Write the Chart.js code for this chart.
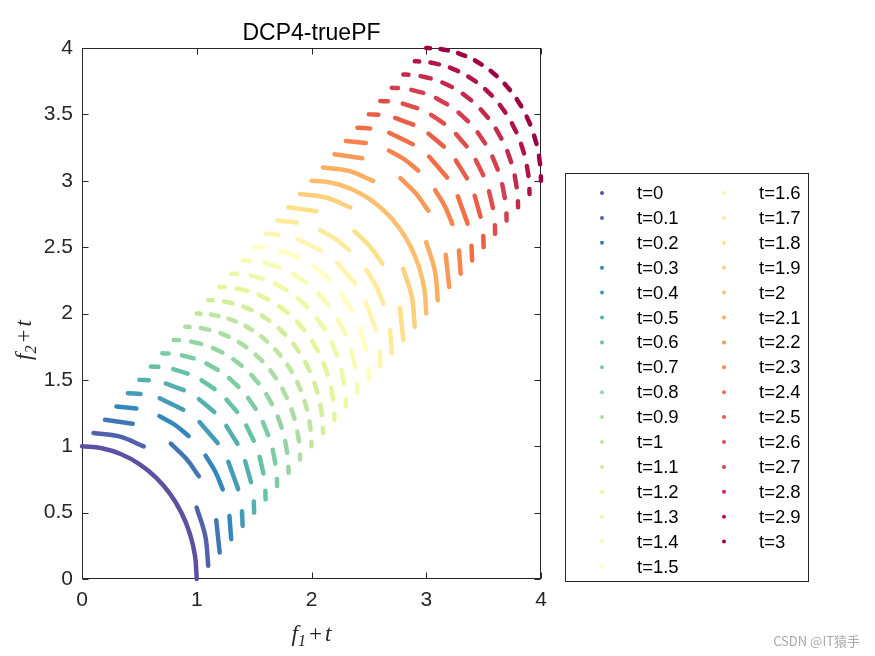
<!DOCTYPE html>
<html>
<head>
<meta charset="utf-8">
<script src="https://cdn.jsdelivr.net/npm/chart.js@4.4.1/dist/chart.umd.min.js"></script>
<style>
  html, body { margin: 0; padding: 0; background: #fff; }
</style>
</head>
<body>
<canvas id="pf" width="875" height="656"></canvas>
<script>
// time steps shown in the legend
const tValues = [0, 0.1, 0.2, 0.3, 0.4, 0.5, 0.6, 0.7, 0.8, 0.9, 1, 1.1, 1.2, 1.3, 1.4, 1.5,
  1.6, 1.7, 1.8, 1.9, 2, 2.1, 2.2, 2.3, 2.4, 2.5, 2.6, 2.7, 2.8, 2.9, 3];

const xTicks = [0, 1, 2, 3, 4];
const yTicks = [0, 0.5, 1, 1.5, 2, 2.5, 3, 3.5, 4];

// front pieces, [f1+t, f2+t]; null = gap between pieces
const s00 = [[0,1],[0.174,0.985],[0.342,0.94],[0.5,0.866],[0.643,0.766],[0.766,0.643],[0.866,0.5],[0.94,0.342],[0.985,0.174],[1,0]];
const s01 = [[0.1,1.1],[0.325,1.074],[0.538,0.999],null,[0.999,0.538],[1.074,0.325],[1.1,0.1]];
const s02 = [[0.2,1.2],[0.442,1.17],null,[0.774,1.019],[0.907,0.907],[1.019,0.774],null,[1.17,0.442],[1.2,0.2]];
const s03 = [[0.3,1.3],[0.474,1.285],null,[0.675,1.227],[0.808,1.162],[0.929,1.077],null,[1.077,0.929],[1.162,0.808],[1.227,0.675],null,[1.285,0.474],[1.3,0.3]];
const s04 = [[0.4,1.4],[0.511,1.394],null,[0.677,1.361],[0.883,1.275],null,[1.024,1.182],[1.182,1.024],null,[1.275,0.883],[1.361,0.677],null,[1.394,0.511],[1.4,0.4]];
const s05 = [[0.5,1.5],[0.583,1.497],null,[0.729,1.473],[0.887,1.422],null,[1.019,1.355],[1.153,1.258],null,[1.258,1.153],[1.355,1.019],null,[1.422,0.887],[1.473,0.729],null,[1.497,0.583],[1.5,0.5]];
const s06 = [[0.6,1.6],[0.665,1.598],null,[0.795,1.581],[0.921,1.547],null,[1.042,1.497],[1.156,1.431],null,[1.259,1.352],[1.352,1.259],null,[1.431,1.156],[1.497,1.042],null,[1.547,0.921],[1.581,0.795],null,[1.598,0.665],[1.6,0.6]];
const s07 = [[0.7,1.7],[0.754,1.699],null,[0.87,1.685],[0.974,1.662],null,[1.084,1.623],[1.182,1.576],null,[1.281,1.514],[1.364,1.448],null,[1.448,1.364],[1.514,1.281],null,[1.576,1.182],[1.623,1.084],null,[1.662,0.974],[1.685,0.87],null,[1.699,0.754],[1.7,0.7]];
const s08 = [[0.8,1.8],[0.845,1.799],null,[0.951,1.788],[1.039,1.771],null,[1.14,1.74],[1.224,1.706],null,[1.318,1.655],[1.392,1.606],null,[1.474,1.538],[1.538,1.474],null,[1.606,1.392],[1.655,1.318],null,[1.706,1.224],[1.74,1.14],null,[1.771,1.039],[1.788,0.951],null,[1.799,0.845],[1.8,0.8]];
const s09 = [[0.9,1.9],[0.938,1.899],null,[1.036,1.891],[1.111,1.877],null,[1.206,1.852],[1.278,1.826],null,[1.366,1.785],[1.433,1.746],null,[1.513,1.69],[1.572,1.641],null,[1.641,1.572],[1.69,1.513],null,[1.746,1.433],[1.785,1.366],null,[1.826,1.278],[1.852,1.206],null,[1.877,1.111],[1.891,1.036],null,[1.899,0.938],[1.9,0.9]];
const s10 = [[1,2],[1.033,1.999],null,[1.124,1.992],[1.189,1.982],null,[1.277,1.961],[1.34,1.94],null,[1.424,1.906],[1.483,1.875],null,[1.561,1.828],[1.614,1.789],null,[1.683,1.73],[1.73,1.683],null,[1.789,1.614],[1.828,1.561],null,[1.875,1.483],[1.906,1.424],null,[1.94,1.34],[1.961,1.277],null,[1.982,1.189],[1.992,1.124],null,[1.999,1.033],[2,1]];
const s11 = [[1.1,2.1],[1.138,2.099],null,[1.236,2.091],[1.311,2.077],null,[1.406,2.052],[1.478,2.026],null,[1.566,1.985],[1.633,1.946],null,[1.713,1.89],[1.772,1.841],null,[1.841,1.772],[1.89,1.713],null,[1.946,1.633],[1.985,1.566],null,[2.026,1.478],[2.052,1.406],null,[2.077,1.311],[2.091,1.236],null,[2.099,1.138],[2.1,1.1]];
const s12 = [[1.2,2.2],[1.245,2.199],null,[1.351,2.188],[1.439,2.171],null,[1.54,2.14],[1.624,2.106],null,[1.718,2.055],[1.792,2.006],null,[1.874,1.938],[1.938,1.874],null,[2.006,1.792],[2.055,1.718],null,[2.106,1.624],[2.14,1.54],null,[2.171,1.439],[2.188,1.351],null,[2.199,1.245],[2.2,1.2]];
const s13 = [[1.3,2.3],[1.354,2.299],null,[1.47,2.285],[1.574,2.262],null,[1.684,2.223],[1.782,2.176],null,[1.881,2.114],[1.964,2.048],null,[2.048,1.964],[2.114,1.881],null,[2.176,1.782],[2.223,1.684],null,[2.262,1.574],[2.285,1.47],null,[2.299,1.354],[2.3,1.3]];
const s14 = [[1.4,2.4],[1.465,2.398],null,[1.595,2.381],[1.721,2.347],null,[1.842,2.297],[1.956,2.231],null,[2.059,2.152],[2.152,2.059],null,[2.231,1.956],[2.297,1.842],null,[2.347,1.721],[2.381,1.595],null,[2.398,1.465],[2.4,1.4]];
const s15 = [[1.5,2.5],[1.583,2.497],null,[1.729,2.473],[1.887,2.422],null,[2.019,2.355],[2.153,2.258],null,[2.258,2.153],[2.355,2.019],null,[2.422,1.887],[2.473,1.729],null,[2.497,1.583],[2.5,1.5]];
const s16 = [[1.6,2.6],[1.711,2.594],null,[1.877,2.561],[2.083,2.475],null,[2.224,2.382],[2.382,2.224],null,[2.475,2.083],[2.561,1.877],null,[2.594,1.711],[2.6,1.6]];
const s17 = [[1.7,2.7],[1.874,2.685],null,[2.075,2.627],[2.208,2.562],[2.329,2.477],null,[2.477,2.329],[2.562,2.208],[2.627,2.075],null,[2.685,1.874],[2.7,1.7]];
const s18 = [[1.8,2.8],[2.042,2.77],null,[2.374,2.619],[2.507,2.507],[2.619,2.374],null,[2.77,2.042],[2.8,1.8]];
const s19 = [[1.9,2.9],[2.125,2.874],[2.338,2.799],null,[2.799,2.338],[2.874,2.125],[2.9,1.9]];
const s20 = [[2,3],[2.174,2.985],[2.342,2.94],[2.5,2.866],[2.643,2.766],[2.766,2.643],[2.866,2.5],[2.94,2.342],[2.985,2.174],[3,2]];
const s21 = [[2.1,3.1],[2.325,3.074],[2.538,2.999],null,[2.999,2.538],[3.074,2.325],[3.1,2.1]];
const s22 = [[2.2,3.2],[2.442,3.17],null,[2.774,3.019],[2.907,2.907],[3.019,2.774],null,[3.17,2.442],[3.2,2.2]];
const s23 = [[2.3,3.3],[2.474,3.285],null,[2.675,3.227],[2.808,3.162],[2.929,3.077],null,[3.077,2.929],[3.162,2.808],[3.227,2.675],null,[3.285,2.474],[3.3,2.3]];
const s24 = [[2.4,3.4],[2.511,3.394],null,[2.677,3.361],[2.883,3.275],null,[3.024,3.182],[3.182,3.024],null,[3.275,2.883],[3.361,2.677],null,[3.394,2.511],[3.4,2.4]];
const s25 = [[2.5,3.5],[2.583,3.497],null,[2.729,3.473],[2.887,3.422],null,[3.019,3.355],[3.153,3.258],null,[3.258,3.153],[3.355,3.019],null,[3.422,2.887],[3.473,2.729],null,[3.497,2.583],[3.5,2.5]];
const s26 = [[2.6,3.6],[2.665,3.598],null,[2.795,3.581],[2.921,3.547],null,[3.042,3.497],[3.156,3.431],null,[3.259,3.352],[3.352,3.259],null,[3.431,3.156],[3.497,3.042],null,[3.547,2.921],[3.581,2.795],null,[3.598,2.665],[3.6,2.6]];
const s27 = [[2.7,3.7],[2.754,3.699],null,[2.87,3.685],[2.974,3.662],null,[3.084,3.623],[3.182,3.576],null,[3.281,3.514],[3.364,3.448],null,[3.448,3.364],[3.514,3.281],null,[3.576,3.182],[3.623,3.084],null,[3.662,2.974],[3.685,2.87],null,[3.699,2.754],[3.7,2.7]];
const s28 = [[2.8,3.8],[2.845,3.799],null,[2.951,3.788],[3.039,3.771],null,[3.14,3.74],[3.224,3.706],null,[3.318,3.655],[3.392,3.606],null,[3.474,3.538],[3.538,3.474],null,[3.606,3.392],[3.655,3.318],null,[3.706,3.224],[3.74,3.14],null,[3.771,3.039],[3.788,2.951],null,[3.799,2.845],[3.8,2.8]];
const s29 = [[2.9,3.9],[2.938,3.899],null,[3.036,3.891],[3.111,3.877],null,[3.206,3.852],[3.278,3.826],null,[3.366,3.785],[3.433,3.746],null,[3.513,3.69],[3.572,3.641],null,[3.641,3.572],[3.69,3.513],null,[3.746,3.433],[3.785,3.366],null,[3.826,3.278],[3.852,3.206],null,[3.877,3.111],[3.891,3.036],null,[3.899,2.938],[3.9,2.9]];
const s30 = [[3,4],[3.033,3.999],null,[3.124,3.992],[3.189,3.982],null,[3.277,3.961],[3.34,3.94],null,[3.424,3.906],[3.483,3.875],null,[3.561,3.828],[3.614,3.789],null,[3.683,3.73],[3.73,3.683],null,[3.789,3.614],[3.828,3.561],null,[3.875,3.483],[3.906,3.424],null,[3.94,3.34],[3.961,3.277],null,[3.982,3.189],[3.992,3.124],null,[3.999,3.033],[4,3]];

const fronts = [s00, s01, s02, s03, s04, s05, s06, s07, s08, s09, s10, s11, s12, s13, s14, s15,
  s16, s17, s18, s19, s20, s21, s22, s23, s24, s25, s26, s27, s28, s29, s30];

// spectral colormap, reversed (purple -> dark red)
const stops = ['#5e4fa2', '#3288bd', '#66c2a5', '#abdda4', '#e6f598', '#ffffbf',
  '#fee08b', '#fdae61', '#f46d43', '#d53e4f', '#9e0142'];

function hexRgb(h) {
  return [1, 3, 5].map(i => parseInt(h.substr(i, 2), 16));
}
function colorAt(i, n) {
  const p = i / (n - 1) * (stops.length - 1);
  const k = Math.min(Math.floor(p), stops.length - 2);
  const f = p - k;
  const a = hexRgb(stops[k]), b = hexRgb(stops[k + 1]);
  const c = a.map((v, j) => Math.round(v + (b[j] - v) * f));
  return 'rgb(' + c.join(',') + ')';
}

const colors = tValues.map((t, i) => colorAt(i, tValues.length));
const SANS = '"Liberation Sans", Arial, Helvetica, sans-serif';
const SERIF = '"Liberation Serif", "Times New Roman", serif';
const AX = '#262626';

const datasets = fronts.map((arr, i) => ({
  label: 't=' + tValues[i],
  data: arr.map(p => p ? { x: p[0], y: p[1] } : { x: null, y: null }),
  showLine: true,
  borderColor: colors[i],
  backgroundColor: colors[i],
  borderWidth: 4.5,
  borderCapStyle: 'round',
  borderJoinStyle: 'round',
  pointRadius: 0,
  tension: 0.4,
  clip: false
}));

function mathLabel(ctx, sub, cx, cy) {
  const parts = [
    ['f', 'italic 23px ' + SERIF, 0, 0],
    [sub, 'italic 16px ' + SERIF, 5, 0],
    ['+', '23px ' + SERIF, 0, 3],
    ['t', 'italic 23px ' + SERIF, 0, 3]
  ];
  let w = 0;
  parts.forEach(p => { ctx.font = p[1]; p.w = ctx.measureText(p[0]).width; w += p.w + p[3]; });
  let x = cx - w / 2;
  parts.forEach(p => {
    x += p[3];
    ctx.font = p[1];
    ctx.fillText(p[0], x, cy + p[2]);
    x += p.w;
  });
}

const frame = {
  id: 'frame',
  beforeDatasetsDraw(chart) {
    const { ctx, chartArea: a, scales: { x, y } } = chart;
    ctx.save();
    ctx.strokeStyle = AX;
    ctx.lineWidth = 1;
    const L = Math.round(a.left) + 0.5, R = Math.round(a.right) - 0.5;
    const T = Math.round(a.top) + 0.5, B = Math.round(a.bottom) - 0.5;
    ctx.strokeRect(L, T, R - L, B - T);
    ctx.beginPath();
    xTicks.forEach(v => {
      const px = Math.round(x.getPixelForValue(v)) + 0.5;
      ctx.moveTo(px, B); ctx.lineTo(px, B - 6);
      ctx.moveTo(px, T); ctx.lineTo(px, T + 6);
    });
    yTicks.forEach(v => {
      const py = Math.round(y.getPixelForValue(v)) + 0.5;
      ctx.moveTo(L, py); ctx.lineTo(L + 6, py);
      ctx.moveTo(R, py); ctx.lineTo(R - 6, py);
    });
    ctx.stroke();
    ctx.restore();
  },
  afterDraw(chart) {
    const ctx = chart.ctx;
    ctx.save();
    // title
    ctx.fillStyle = '#000';
    ctx.font = '23px ' + SANS;
    ctx.textAlign = 'center';
    ctx.textBaseline = 'alphabetic';
    ctx.fillText('DCP4-truePF', 311.5, 40);

    // axis titles
    ctx.fillStyle = AX;
    ctx.textAlign = 'left';
    mathLabel(ctx, '1', 311.5, 641);
    ctx.save();
    ctx.translate(31, 340);
    ctx.rotate(-Math.PI / 2);
    mathLabel(ctx, '2', 0, 0);
    ctx.restore();

    // legend box
    ctx.strokeStyle = AX;
    ctx.lineWidth = 1;
    ctx.strokeRect(565.5, 173.5, 243, 408);
    ctx.font = '18.5px ' + SANS;
    ctx.textBaseline = 'middle';
    ctx.fillStyle = '#000';
    const perCol = 16;
    datasets.forEach((d, i) => {
      const col = Math.floor(i / perCol), row = i % perCol;
      const yy = 193 + row * 24.9;
      const mx = col ? 724 : 602;
      const tx = col ? 759 : 637;
      ctx.beginPath();
      ctx.fillStyle = d.borderColor;
      ctx.arc(mx, yy, 2, 0, Math.PI * 2);
      ctx.fill();
      ctx.fillStyle = '#000';
      ctx.fillText(d.label, tx, yy + 1);
    });

    // watermark
    ctx.font = '13px "Noto Sans CJK SC", ' + SANS;
    ctx.fillStyle = '#a8a8a8';
    ctx.textAlign = 'right';
    ctx.fillText('CSDN @IT猿手', 860, 641);
    ctx.restore();
  }
};

new Chart(document.getElementById('pf'), {
  type: 'scatter',
  data: { datasets: datasets },
  options: {
    responsive: false,
    animation: false,
    events: [],
    layout: { padding: { left: 0, top: 48, right: 334, bottom: 0 } },
    plugins: {
      legend: { display: false },
      tooltip: { enabled: false },
      title: { display: false }
    },
    scales: {
      x: {
        type: 'linear',
        min: 0,
        max: 4,
        afterBuildTicks: s => { s.ticks = xTicks.map(v => ({ value: v })); },
        ticks: { padding: 9, color: AX, font: { family: SANS, size: 21 }, callback: v => String(v) },
        grid: { display: false, drawTicks: false },
        border: { display: false },
        afterFit: s => { s.height = 77; }
      },
      y: {
        type: 'linear',
        min: 0,
        max: 4,
        afterBuildTicks: s => { s.ticks = yTicks.map(v => ({ value: v })); },
        ticks: { padding: 9, color: AX, font: { family: SANS, size: 21 }, callback: v => String(v) },
        grid: { display: false, drawTicks: false },
        border: { display: false },
        afterFit: s => { s.width = 82; }
      }
    }
  },
  plugins: [frame]
});
</script>
</body>
</html>
